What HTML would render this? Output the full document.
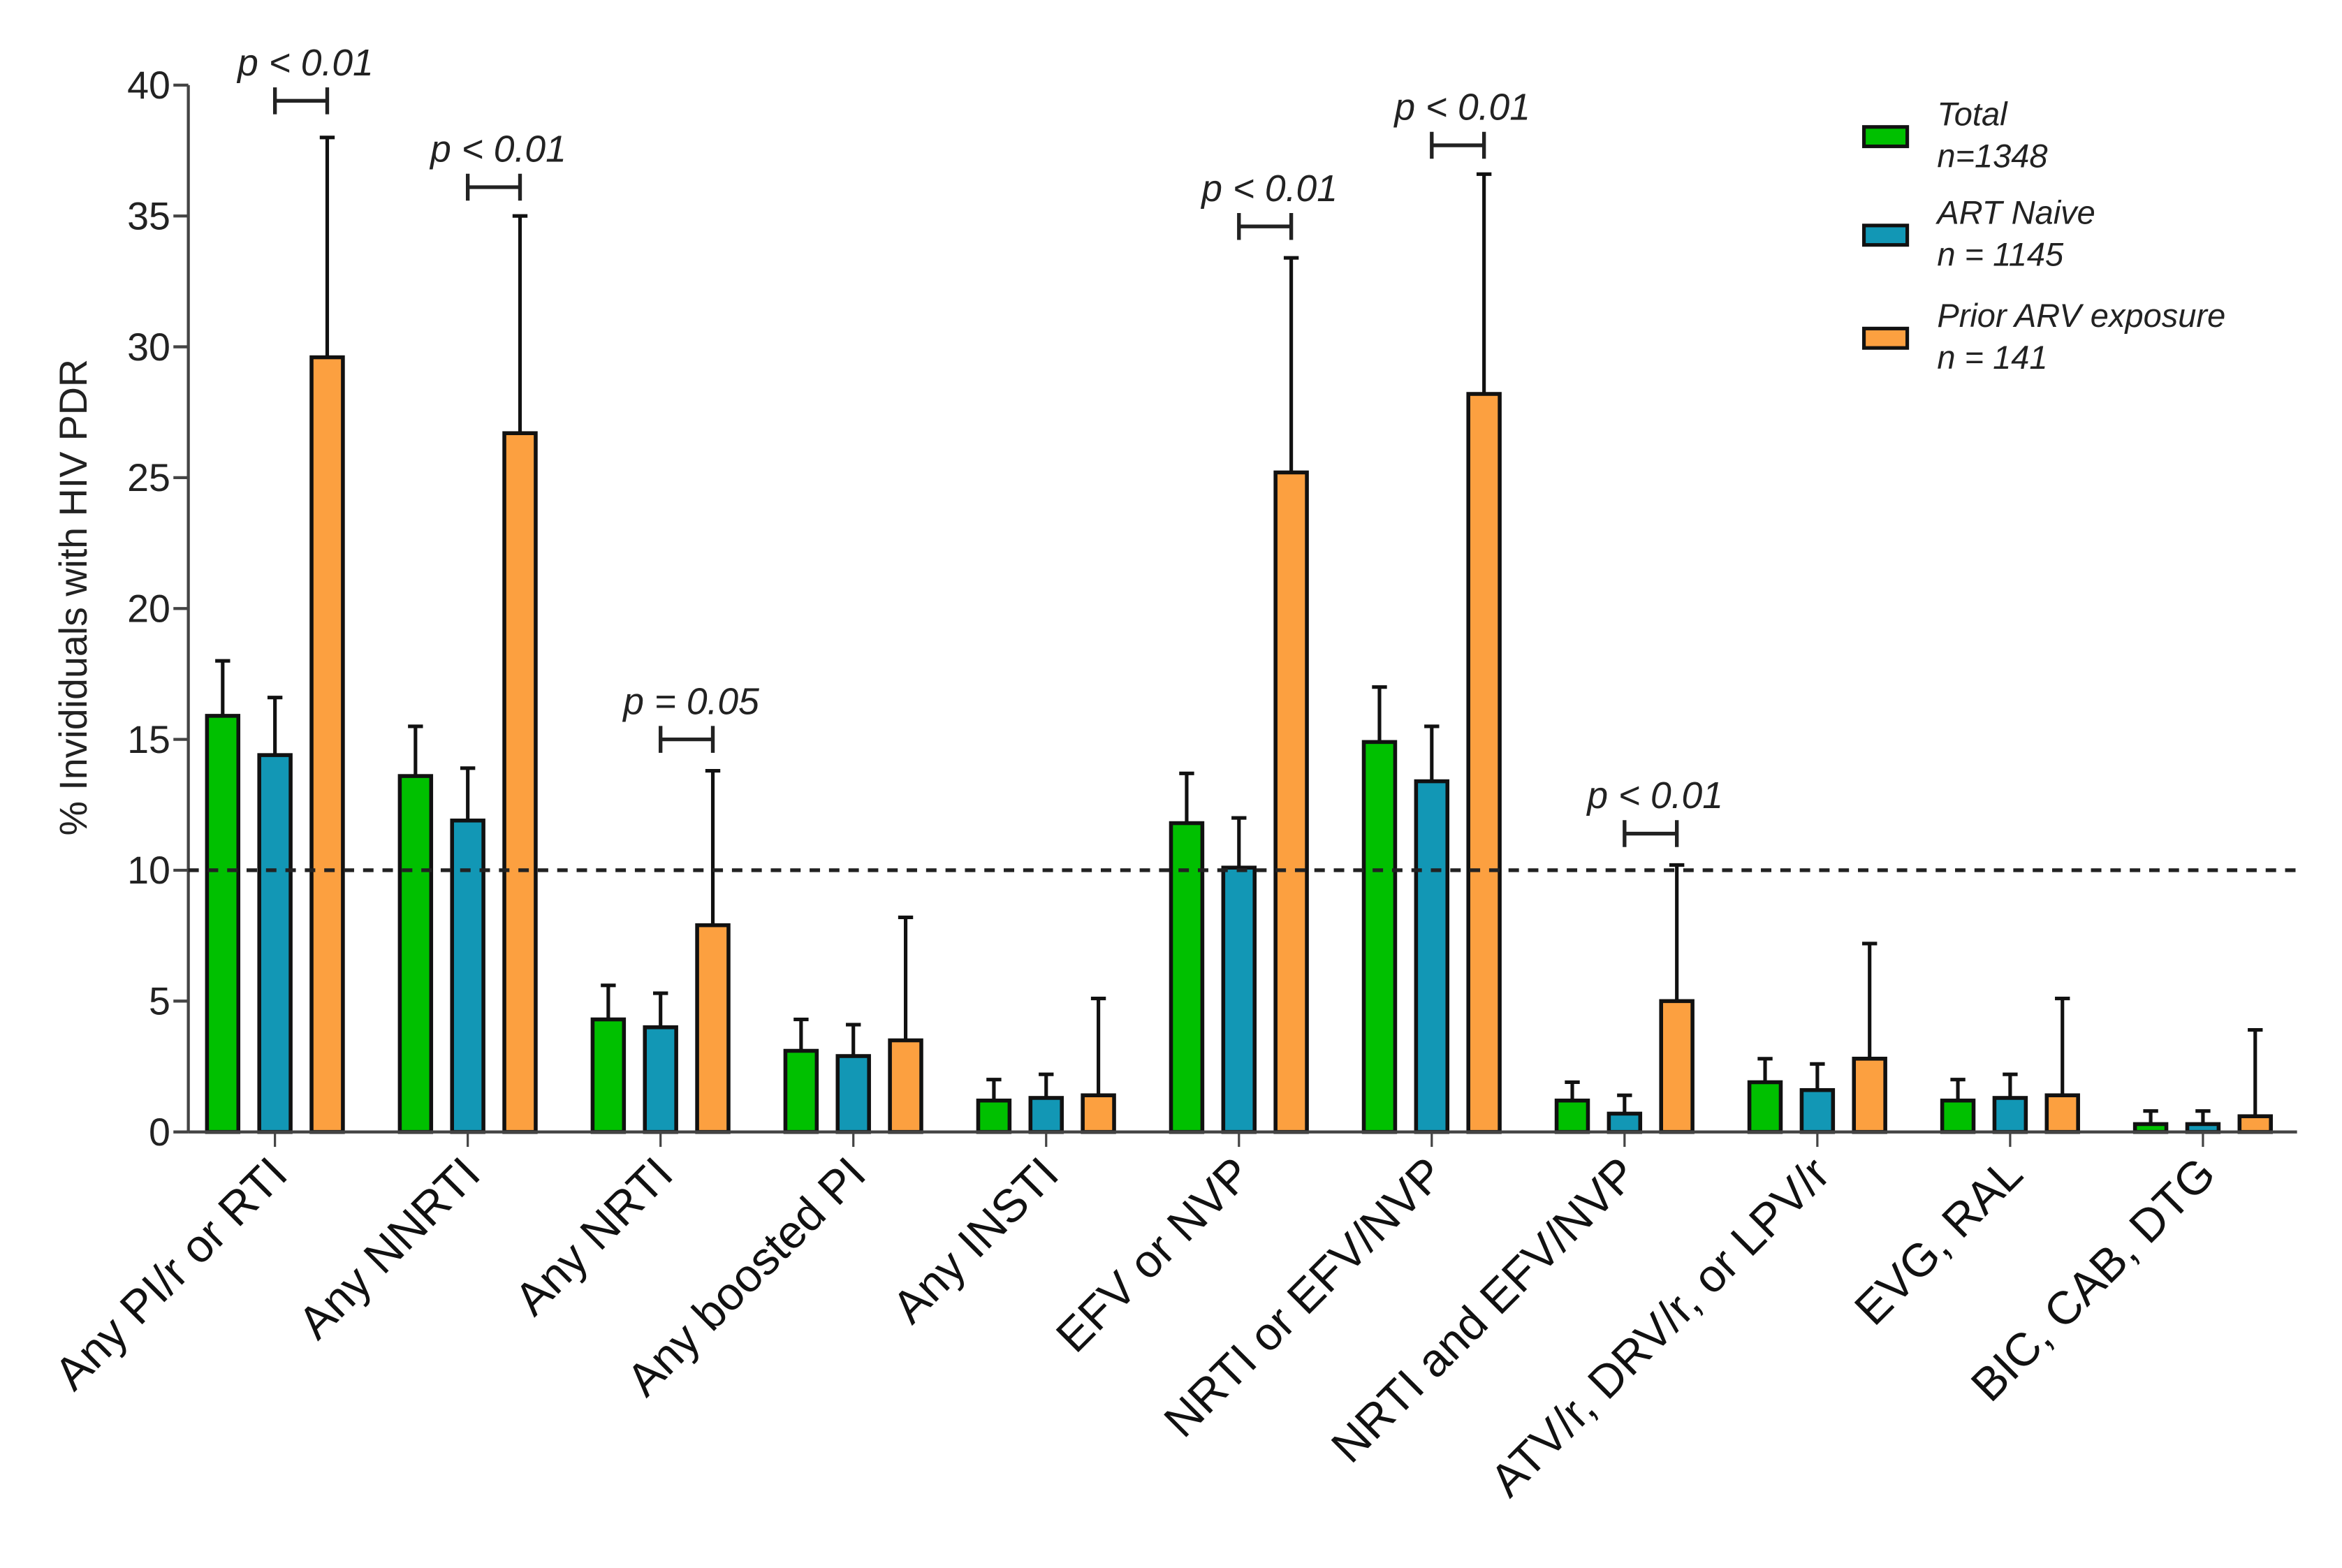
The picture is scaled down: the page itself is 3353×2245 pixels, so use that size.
<!DOCTYPE html>
<html><head><meta charset="utf-8"><style>
html,body{margin:0;padding:0;background:#fff;}
svg{display:block;font-family:"Liberation Sans",Arial,sans-serif;}
</style></head><body>
<svg id="chart" width="3353" height="2245" viewBox="0 0 1568 1050" xmlns="http://www.w3.org/2000/svg"></svg>
<script>
const categories = ["Any PI/r or RTI","Any NNRTI","Any NRTI","Any boosted PI","Any INSTI","EFV or NVP","NRTI or EFV/NVP","NRTI and EFV/NVP","ATV/r, DRV/r, or LPV/r","EVG, RAL","BIC, CAB, DTG"];
const totalValues = [15.9,13.6,4.3,3.1,1.2,11.8,14.9,1.2,1.9,1.2,0.3];
const totalErr = [18.0,15.5,5.6,4.3,2.0,13.7,17.0,1.9,2.8,2.0,0.8];
const naiveValues = [14.4,11.9,4.0,2.9,1.3,10.1,13.4,0.7,1.6,1.3,0.3];
const naiveErr = [16.6,13.9,5.3,4.1,2.2,12.0,15.5,1.4,2.6,2.2,0.8];
const priorValues = [29.6,26.7,7.9,3.5,1.4,25.2,28.2,5.0,2.8,1.4,0.6];
const priorErr = [38.0,35.0,13.8,8.2,5.1,33.4,36.6,10.2,7.2,5.1,3.9];
const yTicks = [0,5,10,15,20,25,30,35,40];
const thresholdValue = 10;
const sigGroups = [0,1,2,5,6,7];
const sigLevels = [39.4,36.1,15.0,34.6,37.7,11.4];
const sigLabels = ["p < 0.01","p < 0.01","p = 0.05","p < 0.01","p < 0.01","p < 0.01"];

const NS="http://www.w3.org/2000/svg";
const svg=document.getElementById('chart');
const X0=126, X1=1538, Y0=758, Y40=57;
const yScale=v=>Y0-(v/40)*(Y0-Y40);
const xCenter=i=>184+i*129.1;
function mk(tag,attrs,parent){const e=document.createElementNS(NS,tag);for(const k in attrs)e.setAttribute(k,attrs[k]);(parent||svg).appendChild(e);return e;}

const yAxis=mk('line',{x1:X0,y1:Y40,x2:X0,y2:Y0,stroke:'#444','stroke-width':2});


yTicks.forEach(t=>{
  const y=yScale(t);
  const tk=mk('line',{x1:X0-10,y1:y,x2:X0,y2:y,stroke:'#444','stroke-width':2});
  
  
  const tl=mk('text',{x:X0-12,y:y+9,'text-anchor':'end','font-size':26,fill:'#222'});
  tl.textContent=t;
  
  
});
const yt=mk('text',{x:0,y:0,transform:'translate(58,400) rotate(-90)','text-anchor':'middle','font-size':26,fill:'#222'});
yt.textContent='% Invididuals with HIV PDR';



const series=[{v:totalValues,e:totalErr,c:'#00c000',off:-35,n:'total'},{v:naiveValues,e:naiveErr,c:'#1297b5',off:0,n:'art-naive'},{v:priorValues,e:priorErr,c:'#fca040',off:35,n:'prior-arv'}];
categories.forEach((cat,i)=>{
  const cx=xCenter(i);
  series.forEach(s=>{
    const bx=cx+s.off-10.5, top=yScale(s.v[i]), et=yScale(s.e[i]);
    const el=mk('line',{x1:cx+s.off,y1:et,x2:cx+s.off,y2:top,stroke:'#111','stroke-width':2.4});
    
    
    const cap=mk('line',{x1:cx+s.off-5,y1:et,x2:cx+s.off+5,y2:et,stroke:'#111','stroke-width':2.4});
    
    
    const r=mk('rect',{x:bx,y:top,width:21,height:Y0-top,fill:s.c,stroke:'#111','stroke-width':2.6});
    
    
  });
  const tk=mk('line',{x1:cx,y1:Y0,x2:cx,y2:Y0+10,stroke:'#444','stroke-width':1.5});
  
  
  const lb=mk('text',{x:0,y:0,transform:`translate(${cx+10},${Y0+30}) rotate(-45)`,'text-anchor':'end','font-size':31,fill:'#111'});
  lb.textContent=cat;
  
  
});
const xAxis=mk('line',{x1:X0,y1:Y0,x2:X1,y2:Y0,stroke:'#444','stroke-width':2});



const th=mk('line',{x1:X0,y1:yScale(thresholdValue),x2:X1,y2:yScale(thresholdValue),stroke:'#222','stroke-width':2.5,'stroke-dasharray':'7,6'});



sigGroups.forEach((g,k)=>{
  const x1=xCenter(g), x2=xCenter(g)+35, y=yScale(sigLevels[k]);
  const b=mk('path',{d:`M${x1},${y-9}V${y+9}M${x1},${y}H${x2}M${x2},${y-9}V${y+9}`,stroke:'#222','stroke-width':2.5,fill:'none'});
  
  
  const t=mk('text',{x:(x1+x2)/2+3,y:y-17,'text-anchor':'middle','font-size':25,'font-style':'italic',fill:'#222'});
  t.textContent=sigLabels[k];
  
  
});

const legendNames=[["Total","n=1348"],["ART Naive","n = 1145"],["Prior ARV exposure","n = 141"]];
const legendColors=['#00c000','#1297b5','#fca040'];
const ly=[91,157,226];
legendNames.forEach((ln,i)=>{
  const r=mk('rect',{x:1248,y:ly[i]-6,width:29,height:13,fill:legendColors[i],stroke:'#111','stroke-width':2.4});
  
  
  const t1=mk('text',{x:1297,y:ly[i]-7,'font-size':22,'font-style':'italic',fill:'#222'});
  t1.textContent=ln[0];
  
  
  const t2=mk('text',{x:1297,y:ly[i]+21,'font-size':22,'font-style':'italic',fill:'#222'});
  t2.textContent=ln[1];
  
  
});
</script>
</body></html>
